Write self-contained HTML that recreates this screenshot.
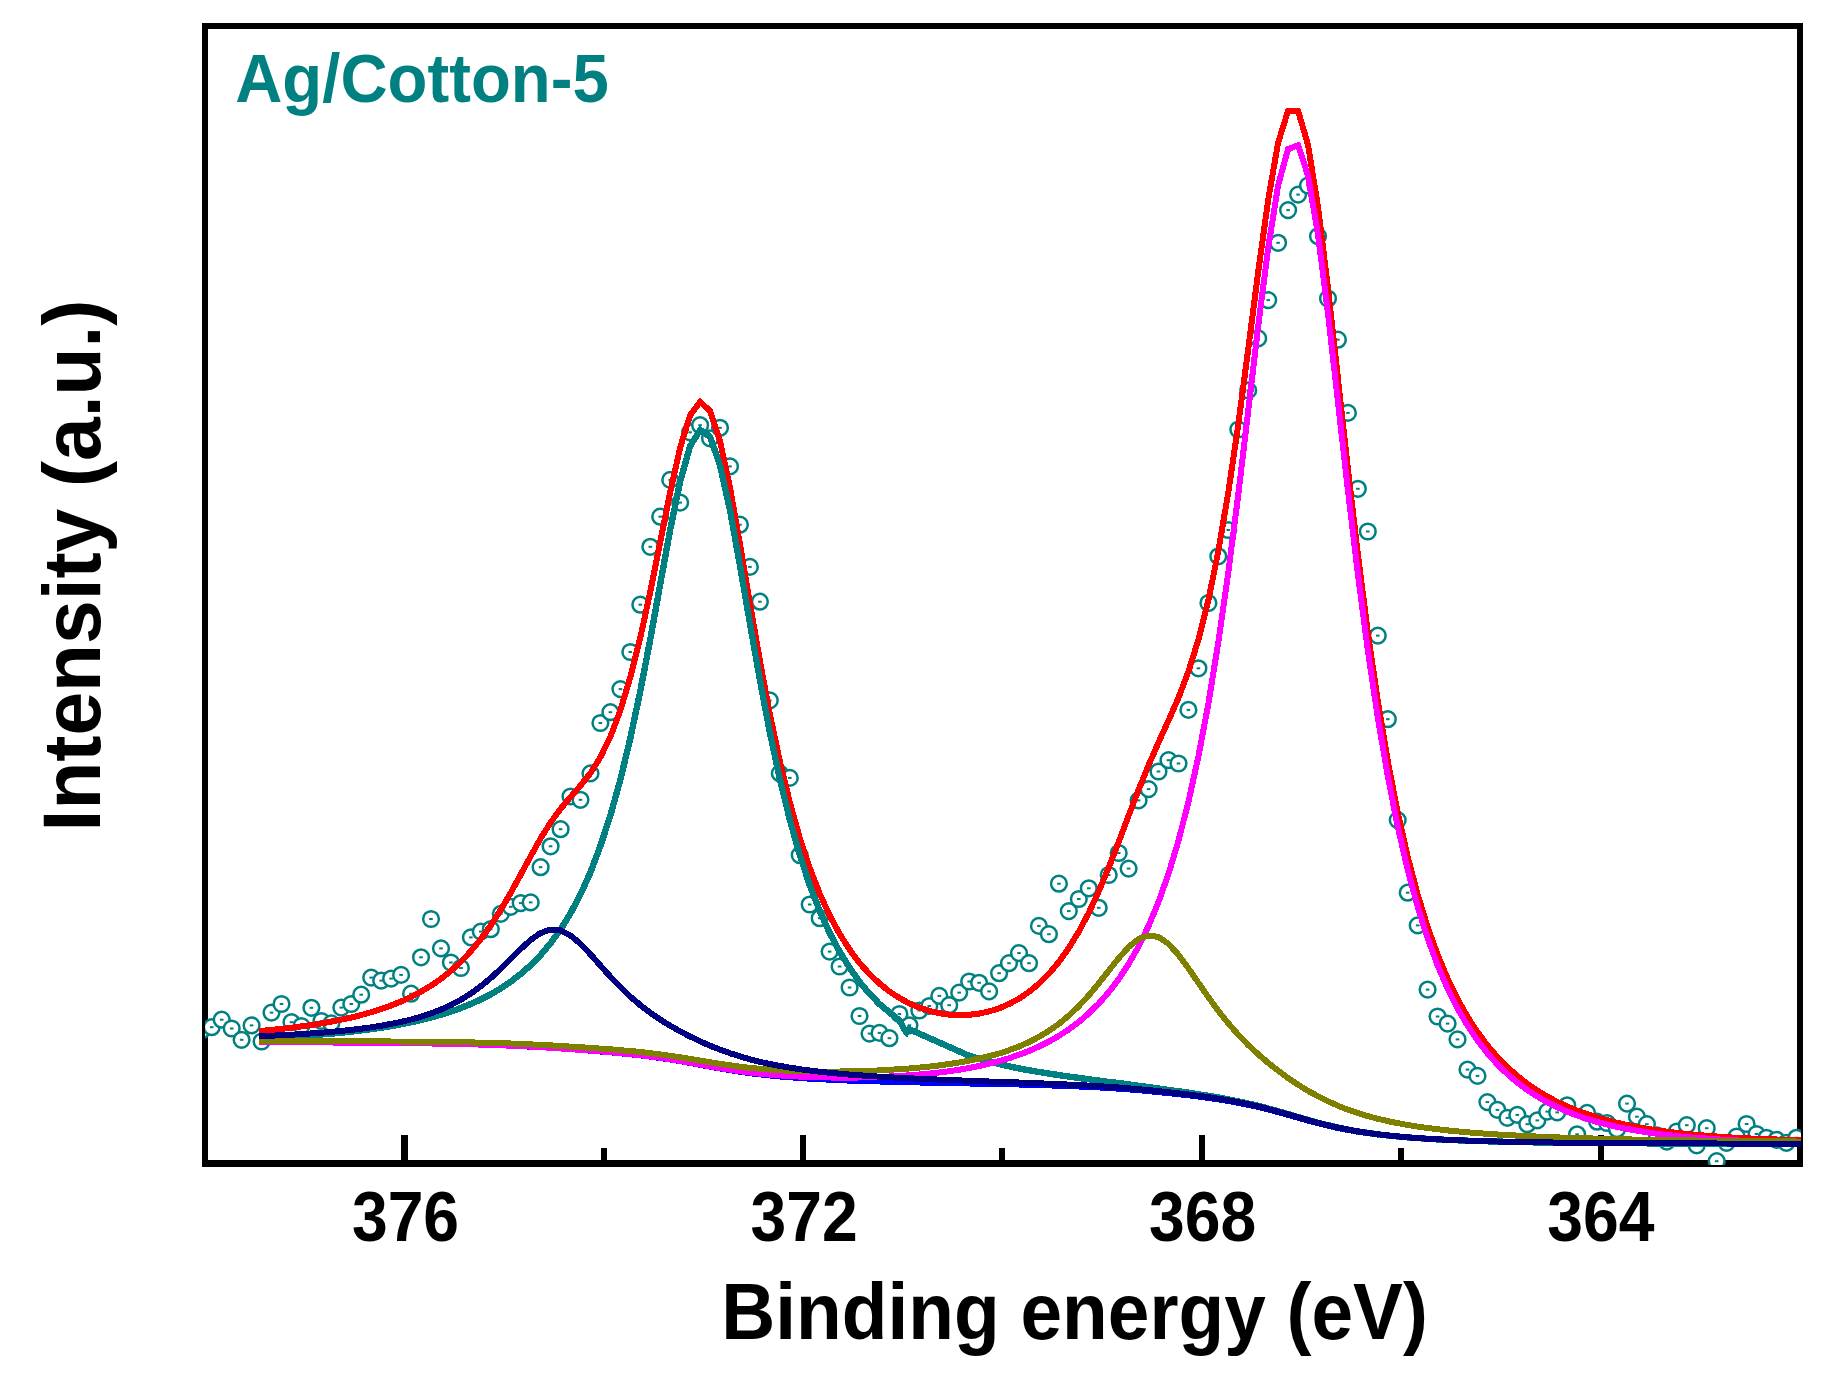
<!DOCTYPE html>
<html lang="en"><head><meta charset="utf-8"><title>Ag/Cotton-5 XPS Ag 3d</title>
<style>
html,body{margin:0;padding:0;background:#fff}
body{width:1828px;height:1393px;overflow:hidden}
svg{display:block}
text{font-family:"Liberation Sans",Arial,Helvetica,sans-serif;font-weight:bold}
.pt circle{fill:#fff;stroke:#008080;stroke-width:2.5}
.pt rect{fill:#008080}
.ln path{fill:none;stroke-linejoin:miter;stroke-miterlimit:6;stroke-linecap:square}
</style></head><body>
<svg width="1828" height="1393" viewBox="0 0 1828 1393">
<rect width="1828" height="1393" fill="#fff"/>

<g shape-rendering="crispEdges" fill="#000">
<rect x="202" y="23" width="6" height="1144"/>
<rect x="1797" y="23" width="6" height="1144"/>
<rect x="202" y="23" width="1601" height="6"/>
<rect x="202" y="1160" width="1601" height="7"/>
<rect x="401.3" y="1135.3" width="6.4" height="26"/>
<rect x="800.0" y="1135.3" width="6.4" height="26"/>
<rect x="1198.8" y="1135.3" width="6.4" height="26"/>
<rect x="1597.8" y="1135.3" width="6.4" height="26"/>
<rect x="600.8" y="1148" width="6.4" height="14"/>
<rect x="999.0" y="1148" width="6.4" height="14"/>
<rect x="1397.8" y="1148" width="6.4" height="14"/>
</g>
<defs><clipPath id="cp"><rect x="205" y="26" width="1596" height="1139"/></clipPath></defs>
<g clip-path="url(#cp)">
<g class="pt">
<circle cx="201.8" cy="1030.3" r="7.85"/>
<circle cx="211.7" cy="1027.2" r="7.85"/><rect x="209.9" y="1026.2" width="3.6" height="2"/>
<circle cx="221.7" cy="1019.7" r="7.85"/><rect x="219.9" y="1018.7" width="3.6" height="2"/>
<circle cx="231.7" cy="1028.5" r="7.85"/><rect x="229.9" y="1027.5" width="3.6" height="2"/>
<circle cx="241.6" cy="1039.8" r="7.85"/><rect x="239.8" y="1038.8" width="3.6" height="2"/>
<circle cx="251.6" cy="1025.4" r="7.85"/><rect x="249.8" y="1024.4" width="3.6" height="2"/>
<circle cx="261.6" cy="1041.5" r="7.85"/><rect x="259.8" y="1040.5" width="3.6" height="2"/>
<circle cx="271.5" cy="1012.6" r="7.85"/><rect x="269.7" y="1011.6" width="3.6" height="2"/>
<circle cx="281.5" cy="1004.0" r="7.85"/><rect x="279.7" y="1003.0" width="3.6" height="2"/>
<circle cx="291.5" cy="1022.2" r="7.85"/><rect x="289.7" y="1021.2" width="3.6" height="2"/>
<circle cx="301.4" cy="1026.0" r="7.85"/><rect x="299.6" y="1025.0" width="3.6" height="2"/>
<circle cx="311.4" cy="1007.8" r="7.85"/><rect x="309.6" y="1006.8" width="3.6" height="2"/>
<circle cx="321.4" cy="1021.0" r="7.85"/><rect x="319.6" y="1020.0" width="3.6" height="2"/>
<circle cx="331.3" cy="1023.4" r="7.85"/><rect x="329.5" y="1022.4" width="3.6" height="2"/>
<circle cx="341.3" cy="1007.6" r="7.85"/><rect x="339.5" y="1006.6" width="3.6" height="2"/>
<circle cx="351.3" cy="1004.0" r="7.85"/><rect x="349.5" y="1003.0" width="3.6" height="2"/>
<circle cx="361.2" cy="994.7" r="7.85"/><rect x="359.4" y="993.7" width="3.6" height="2"/>
<circle cx="371.2" cy="977.6" r="7.85"/><rect x="369.4" y="976.6" width="3.6" height="2"/>
<circle cx="381.2" cy="980.6" r="7.85"/><rect x="379.4" y="979.6" width="3.6" height="2"/>
<circle cx="391.1" cy="978.6" r="7.85"/><rect x="389.3" y="977.6" width="3.6" height="2"/>
<circle cx="401.1" cy="974.9" r="7.85"/><rect x="399.3" y="973.9" width="3.6" height="2"/>
<circle cx="411.1" cy="993.7" r="7.85"/><rect x="409.3" y="992.7" width="3.6" height="2"/>
<circle cx="421.0" cy="957.3" r="7.85"/><rect x="419.2" y="956.3" width="3.6" height="2"/>
<circle cx="431.0" cy="919.0" r="7.85"/><rect x="429.2" y="918.0" width="3.6" height="2"/>
<circle cx="441.0" cy="948.4" r="7.85"/><rect x="439.2" y="947.4" width="3.6" height="2"/>
<circle cx="450.9" cy="962.5" r="7.85"/><rect x="449.1" y="961.5" width="3.6" height="2"/>
<circle cx="460.9" cy="968.0" r="7.85"/><rect x="459.1" y="967.0" width="3.6" height="2"/>
<circle cx="470.9" cy="937.4" r="7.85"/><rect x="469.1" y="936.4" width="3.6" height="2"/>
<circle cx="480.8" cy="931.6" r="7.85"/><rect x="479.0" y="930.6" width="3.6" height="2"/>
<circle cx="490.8" cy="929.2" r="7.85"/><rect x="489.0" y="928.2" width="3.6" height="2"/>
<circle cx="500.8" cy="913.9" r="7.85"/><rect x="499.0" y="912.9" width="3.6" height="2"/>
<circle cx="510.7" cy="906.8" r="7.85"/><rect x="508.9" y="905.8" width="3.6" height="2"/>
<circle cx="520.7" cy="903.1" r="7.85"/><rect x="518.9" y="902.1" width="3.6" height="2"/>
<circle cx="530.7" cy="902.4" r="7.85"/><rect x="528.9" y="901.4" width="3.6" height="2"/>
<circle cx="540.6" cy="867.2" r="7.85"/><rect x="538.8" y="866.2" width="3.6" height="2"/>
<circle cx="550.6" cy="846.3" r="7.85"/><rect x="548.8" y="845.3" width="3.6" height="2"/>
<circle cx="560.6" cy="829.2" r="7.85"/><rect x="558.8" y="828.2" width="3.6" height="2"/>
<circle cx="570.5" cy="796.5" r="7.85"/><rect x="568.7" y="795.5" width="3.6" height="2"/>
<circle cx="580.5" cy="799.8" r="7.85"/><rect x="578.7" y="798.8" width="3.6" height="2"/>
<circle cx="590.5" cy="773.4" r="7.85"/><rect x="588.7" y="772.4" width="3.6" height="2"/>
<circle cx="600.4" cy="723.0" r="7.85"/><rect x="598.6" y="722.0" width="3.6" height="2"/>
<circle cx="610.4" cy="712.2" r="7.85"/><rect x="608.6" y="711.2" width="3.6" height="2"/>
<circle cx="620.4" cy="689.1" r="7.85"/><rect x="618.6" y="688.1" width="3.6" height="2"/>
<circle cx="630.3" cy="652.0" r="7.85"/><rect x="628.5" y="651.0" width="3.6" height="2"/>
<circle cx="640.3" cy="604.7" r="7.85"/><rect x="638.5" y="603.7" width="3.6" height="2"/>
<circle cx="650.3" cy="546.8" r="7.85"/><rect x="648.5" y="545.8" width="3.6" height="2"/>
<circle cx="660.2" cy="516.7" r="7.85"/><rect x="658.4" y="515.7" width="3.6" height="2"/>
<circle cx="670.2" cy="479.9" r="7.85"/><rect x="668.4" y="478.9" width="3.6" height="2"/>
<circle cx="680.2" cy="502.6" r="7.85"/><rect x="678.4" y="501.6" width="3.6" height="2"/>
<circle cx="690.1" cy="432.3" r="7.85"/><rect x="688.3" y="431.3" width="3.6" height="2"/>
<circle cx="700.1" cy="425.2" r="7.85"/><rect x="698.3" y="424.2" width="3.6" height="2"/>
<circle cx="710.0" cy="438.3" r="7.85"/><rect x="708.2" y="437.3" width="3.6" height="2"/>
<circle cx="720.0" cy="427.8" r="7.85"/><rect x="718.2" y="426.8" width="3.6" height="2"/>
<circle cx="730.0" cy="466.4" r="7.85"/><rect x="728.2" y="465.4" width="3.6" height="2"/>
<circle cx="739.9" cy="524.7" r="7.85"/><rect x="738.1" y="523.7" width="3.6" height="2"/>
<circle cx="749.9" cy="566.9" r="7.85"/><rect x="748.1" y="565.9" width="3.6" height="2"/>
<circle cx="759.9" cy="601.7" r="7.85"/><rect x="758.1" y="600.7" width="3.6" height="2"/>
<circle cx="769.8" cy="700.4" r="7.85"/><rect x="768.0" y="699.4" width="3.6" height="2"/>
<circle cx="779.8" cy="773.4" r="7.85"/><rect x="778.0" y="772.4" width="3.6" height="2"/>
<circle cx="789.8" cy="777.9" r="7.85"/><rect x="788.0" y="776.9" width="3.6" height="2"/>
<circle cx="799.7" cy="855.1" r="7.85"/><rect x="797.9" y="854.1" width="3.6" height="2"/>
<circle cx="809.7" cy="904.5" r="7.85"/><rect x="807.9" y="903.5" width="3.6" height="2"/>
<circle cx="819.7" cy="918.2" r="7.85"/><rect x="817.9" y="917.2" width="3.6" height="2"/>
<circle cx="829.6" cy="951.6" r="7.85"/><rect x="827.8" y="950.6" width="3.6" height="2"/>
<circle cx="839.6" cy="966.5" r="7.85"/><rect x="837.8" y="965.5" width="3.6" height="2"/>
<circle cx="849.6" cy="987.5" r="7.85"/><rect x="847.8" y="986.5" width="3.6" height="2"/>
<circle cx="859.5" cy="1016.0" r="7.85"/><rect x="857.7" y="1015.0" width="3.6" height="2"/>
<circle cx="869.5" cy="1033.6" r="7.85"/><rect x="867.7" y="1032.6" width="3.6" height="2"/>
<circle cx="879.5" cy="1032.9" r="7.85"/><rect x="877.7" y="1031.9" width="3.6" height="2"/>
<circle cx="889.4" cy="1038.2" r="7.85"/><rect x="887.6" y="1037.2" width="3.6" height="2"/>
<circle cx="899.4" cy="1014.0" r="7.85"/><rect x="897.6" y="1013.0" width="3.6" height="2"/>
<circle cx="909.4" cy="1025.3" r="7.85"/><rect x="907.6" y="1024.3" width="3.6" height="2"/>
<circle cx="919.3" cy="1010.5" r="7.85"/><rect x="917.5" y="1009.5" width="3.6" height="2"/>
<circle cx="929.3" cy="1006.0" r="7.85"/><rect x="927.5" y="1005.0" width="3.6" height="2"/>
<circle cx="939.3" cy="995.9" r="7.85"/><rect x="937.5" y="994.9" width="3.6" height="2"/>
<circle cx="949.2" cy="1005.2" r="7.85"/><rect x="947.4" y="1004.2" width="3.6" height="2"/>
<circle cx="959.2" cy="992.6" r="7.85"/><rect x="957.4" y="991.6" width="3.6" height="2"/>
<circle cx="969.2" cy="981.5" r="7.85"/><rect x="967.4" y="980.5" width="3.6" height="2"/>
<circle cx="979.1" cy="982.8" r="7.85"/><rect x="977.3" y="981.8" width="3.6" height="2"/>
<circle cx="989.1" cy="991.4" r="7.85"/><rect x="987.3" y="990.4" width="3.6" height="2"/>
<circle cx="999.1" cy="973.2" r="7.85"/><rect x="997.3" y="972.2" width="3.6" height="2"/>
<circle cx="1009.0" cy="963.2" r="7.85"/><rect x="1007.2" y="962.2" width="3.6" height="2"/>
<circle cx="1019.0" cy="953.1" r="7.85"/><rect x="1017.2" y="952.1" width="3.6" height="2"/>
<circle cx="1029.0" cy="963.2" r="7.85"/><rect x="1027.2" y="962.2" width="3.6" height="2"/>
<circle cx="1038.9" cy="925.9" r="7.85"/><rect x="1037.1" y="924.9" width="3.6" height="2"/>
<circle cx="1048.9" cy="934.2" r="7.85"/><rect x="1047.1" y="933.2" width="3.6" height="2"/>
<circle cx="1058.9" cy="883.7" r="7.85"/><rect x="1057.1" y="882.7" width="3.6" height="2"/>
<circle cx="1068.8" cy="911.1" r="7.85"/><rect x="1067.0" y="910.1" width="3.6" height="2"/>
<circle cx="1078.8" cy="899.0" r="7.85"/><rect x="1077.0" y="898.0" width="3.6" height="2"/>
<circle cx="1088.8" cy="888.3" r="7.85"/><rect x="1087.0" y="887.3" width="3.6" height="2"/>
<circle cx="1098.7" cy="907.8" r="7.85"/><rect x="1096.9" y="906.8" width="3.6" height="2"/>
<circle cx="1108.7" cy="875.0" r="7.85"/><rect x="1106.9" y="874.0" width="3.6" height="2"/>
<circle cx="1118.7" cy="853.0" r="7.85"/><rect x="1116.9" y="852.0" width="3.6" height="2"/>
<circle cx="1128.6" cy="868.6" r="7.85"/><rect x="1126.8" y="867.6" width="3.6" height="2"/>
<circle cx="1138.6" cy="800.4" r="7.85"/><rect x="1136.8" y="799.4" width="3.6" height="2"/>
<circle cx="1148.6" cy="789.1" r="7.85"/><rect x="1146.8" y="788.1" width="3.6" height="2"/>
<circle cx="1158.5" cy="771.5" r="7.85"/><rect x="1156.7" y="770.5" width="3.6" height="2"/>
<circle cx="1168.5" cy="760.2" r="7.85"/><rect x="1166.7" y="759.2" width="3.6" height="2"/>
<circle cx="1178.5" cy="763.5" r="7.85"/><rect x="1176.7" y="762.5" width="3.6" height="2"/>
<circle cx="1188.4" cy="709.9" r="7.85"/><rect x="1186.6" y="708.9" width="3.6" height="2"/>
<circle cx="1198.4" cy="668.3" r="7.85"/><rect x="1196.6" y="667.3" width="3.6" height="2"/>
<circle cx="1208.4" cy="603.0" r="7.85"/><rect x="1206.6" y="602.0" width="3.6" height="2"/>
<circle cx="1218.3" cy="556.3" r="7.85"/><rect x="1216.5" y="555.3" width="3.6" height="2"/>
<circle cx="1228.3" cy="530.0" r="7.85"/><rect x="1226.5" y="529.0" width="3.6" height="2"/>
<circle cx="1238.3" cy="429.5" r="7.85"/><rect x="1236.5" y="428.5" width="3.6" height="2"/>
<circle cx="1248.2" cy="390.4" r="7.85"/><rect x="1246.4" y="389.4" width="3.6" height="2"/>
<circle cx="1258.2" cy="338.4" r="7.85"/><rect x="1256.4" y="337.4" width="3.6" height="2"/>
<circle cx="1268.2" cy="300.1" r="7.85"/><rect x="1266.4" y="299.1" width="3.6" height="2"/>
<circle cx="1278.1" cy="242.8" r="7.85"/><rect x="1276.3" y="241.8" width="3.6" height="2"/>
<circle cx="1288.1" cy="210.1" r="7.85"/><rect x="1286.3" y="209.1" width="3.6" height="2"/>
<circle cx="1298.1" cy="194.6" r="7.85"/><rect x="1296.3" y="193.6" width="3.6" height="2"/>
<circle cx="1308.0" cy="185.5" r="7.85"/><rect x="1306.2" y="184.5" width="3.6" height="2"/>
<circle cx="1318.0" cy="236.2" r="7.85"/><rect x="1316.2" y="235.2" width="3.6" height="2"/>
<circle cx="1328.0" cy="298.5" r="7.85"/><rect x="1326.2" y="297.5" width="3.6" height="2"/>
<circle cx="1337.9" cy="339.7" r="7.85"/><rect x="1336.1" y="338.7" width="3.6" height="2"/>
<circle cx="1347.9" cy="412.9" r="7.85"/><rect x="1346.1" y="411.9" width="3.6" height="2"/>
<circle cx="1357.9" cy="488.8" r="7.85"/><rect x="1356.1" y="487.8" width="3.6" height="2"/>
<circle cx="1367.8" cy="531.5" r="7.85"/><rect x="1366.0" y="530.5" width="3.6" height="2"/>
<circle cx="1377.8" cy="635.6" r="7.85"/><rect x="1376.0" y="634.6" width="3.6" height="2"/>
<circle cx="1387.8" cy="719.2" r="7.85"/><rect x="1386.0" y="718.2" width="3.6" height="2"/>
<circle cx="1397.7" cy="820.1" r="7.85"/><rect x="1395.9" y="819.1" width="3.6" height="2"/>
<circle cx="1407.7" cy="892.7" r="7.85"/><rect x="1405.9" y="891.7" width="3.6" height="2"/>
<circle cx="1417.7" cy="925.4" r="7.85"/><rect x="1415.9" y="924.4" width="3.6" height="2"/>
<circle cx="1427.6" cy="989.6" r="7.85"/><rect x="1425.8" y="988.6" width="3.6" height="2"/>
<circle cx="1437.6" cy="1016.5" r="7.85"/><rect x="1435.8" y="1015.5" width="3.6" height="2"/>
<circle cx="1447.6" cy="1023.6" r="7.85"/><rect x="1445.8" y="1022.6" width="3.6" height="2"/>
<circle cx="1457.5" cy="1039.4" r="7.85"/><rect x="1455.7" y="1038.4" width="3.6" height="2"/>
<circle cx="1467.5" cy="1069.6" r="7.85"/><rect x="1465.7" y="1068.6" width="3.6" height="2"/>
<circle cx="1477.5" cy="1075.9" r="7.85"/><rect x="1475.7" y="1074.9" width="3.6" height="2"/>
<circle cx="1487.4" cy="1102.1" r="7.85"/><rect x="1485.6" y="1101.1" width="3.6" height="2"/>
<circle cx="1497.4" cy="1109.9" r="7.85"/><rect x="1495.6" y="1108.9" width="3.6" height="2"/>
<circle cx="1507.4" cy="1117.9" r="7.85"/><rect x="1505.6" y="1116.9" width="3.6" height="2"/>
<circle cx="1517.3" cy="1114.9" r="7.85"/><rect x="1515.5" y="1113.9" width="3.6" height="2"/>
<circle cx="1527.3" cy="1124.2" r="7.85"/><rect x="1525.5" y="1123.2" width="3.6" height="2"/>
<circle cx="1537.3" cy="1120.4" r="7.85"/><rect x="1535.5" y="1119.4" width="3.6" height="2"/>
<circle cx="1547.2" cy="1111.6" r="7.85"/><rect x="1545.4" y="1110.6" width="3.6" height="2"/>
<circle cx="1557.2" cy="1112.4" r="7.85"/><rect x="1555.4" y="1111.4" width="3.6" height="2"/>
<circle cx="1567.2" cy="1105.3" r="7.85"/><rect x="1565.4" y="1104.3" width="3.6" height="2"/>
<circle cx="1577.1" cy="1134.3" r="7.85"/><rect x="1575.3" y="1133.3" width="3.6" height="2"/>
<circle cx="1587.1" cy="1112.9" r="7.85"/><rect x="1585.3" y="1111.9" width="3.6" height="2"/>
<circle cx="1597.1" cy="1121.7" r="7.85"/><rect x="1595.3" y="1120.7" width="3.6" height="2"/>
<circle cx="1607.0" cy="1123.0" r="7.85"/><rect x="1605.2" y="1122.0" width="3.6" height="2"/>
<circle cx="1617.0" cy="1129.2" r="7.85"/><rect x="1615.2" y="1128.2" width="3.6" height="2"/>
<circle cx="1627.0" cy="1103.6" r="7.85"/><rect x="1625.2" y="1102.6" width="3.6" height="2"/>
<circle cx="1636.9" cy="1116.7" r="7.85"/><rect x="1635.1" y="1115.7" width="3.6" height="2"/>
<circle cx="1646.9" cy="1124.2" r="7.85"/><rect x="1645.1" y="1123.2" width="3.6" height="2"/>
<circle cx="1656.9" cy="1135.3" r="7.85"/><rect x="1655.1" y="1134.3" width="3.6" height="2"/>
<circle cx="1666.8" cy="1141.6" r="7.85"/><rect x="1665.0" y="1140.6" width="3.6" height="2"/>
<circle cx="1676.8" cy="1131.5" r="7.85"/><rect x="1675.0" y="1130.5" width="3.6" height="2"/>
<circle cx="1686.8" cy="1125.2" r="7.85"/><rect x="1685.0" y="1124.2" width="3.6" height="2"/>
<circle cx="1696.7" cy="1145.3" r="7.85"/><rect x="1694.9" y="1144.3" width="3.6" height="2"/>
<circle cx="1706.7" cy="1128.2" r="7.85"/><rect x="1704.9" y="1127.2" width="3.6" height="2"/>
<circle cx="1716.7" cy="1161.2" r="7.85"/><rect x="1714.9" y="1160.2" width="3.6" height="2"/>
<circle cx="1726.6" cy="1142.8" r="7.85"/><rect x="1724.8" y="1141.8" width="3.6" height="2"/>
<circle cx="1736.6" cy="1136.5" r="7.85"/><rect x="1734.8" y="1135.5" width="3.6" height="2"/>
<circle cx="1746.6" cy="1124.0" r="7.85"/><rect x="1744.8" y="1123.0" width="3.6" height="2"/>
<circle cx="1756.5" cy="1134.0" r="7.85"/><rect x="1754.7" y="1133.0" width="3.6" height="2"/>
<circle cx="1766.5" cy="1137.8" r="7.85"/><rect x="1764.7" y="1136.8" width="3.6" height="2"/>
<circle cx="1776.5" cy="1139.8" r="7.85"/><rect x="1774.7" y="1138.8" width="3.6" height="2"/>
<circle cx="1786.4" cy="1142.8" r="7.85"/><rect x="1784.6" y="1141.8" width="3.6" height="2"/>
<circle cx="1796.4" cy="1137.8" r="7.85"/><rect x="1794.6" y="1136.8" width="3.6" height="2"/>
</g>
<g class="ln" shape-rendering="crispEdges">
<path d="M262.0 1030.8 L271.5 1029.9 L281.5 1028.9 L291.5 1027.7 L301.4 1026.4 L311.4 1025.0 L321.4 1023.4 L331.3 1021.6 L341.3 1019.7 L351.3 1017.5 L361.2 1015.0 L371.2 1012.2 L381.2 1009.1 L391.1 1005.5 L401.1 1001.5 L411.1 996.9 L421.0 991.7 L431.0 985.7 L441.0 978.8 L450.9 970.9 L460.9 961.8 L470.9 951.2 L480.8 939.1 L490.8 925.3 L500.8 909.8 L510.7 892.8 L520.7 874.6 L530.7 856.1 L540.6 838.4 L550.6 822.5 L560.6 808.8 L570.5 797.0 L580.5 785.6 L590.5 773.0 L600.4 757.2 L610.4 736.7 L620.4 710.3 L630.3 677.3 L640.3 637.6 L650.3 591.8 L660.2 542.0 L670.2 492.0 L680.2 447.4 L690.1 415.3 L700.1 401.9 L710.0 410.8 L720.0 441.1 L730.0 487.7 L739.9 543.9 L749.9 603.1 L759.9 660.7 L769.8 713.8 L779.8 761.0 L789.8 802.2 L799.7 837.6 L809.7 867.9 L819.7 893.6 L829.6 915.4 L839.6 933.9 L849.6 949.6 L859.5 962.9 L869.5 974.1 L879.5 983.5 L889.4 991.5 L899.4 998.0 L909.4 1003.4 L919.3 1007.6 L929.3 1010.9 L939.3 1013.2 L949.2 1014.6 L959.2 1015.2 L969.2 1014.8 L979.1 1013.6 L989.1 1011.4 L999.1 1008.3 L1009.0 1004.0 L1019.0 998.6 L1029.0 991.9 L1038.9 983.6 L1048.9 973.7 L1058.9 961.9 L1068.8 948.0 L1078.8 931.6 L1088.8 912.8 L1098.7 891.3 L1108.7 867.6 L1118.7 842.0 L1128.6 815.7 L1138.6 789.7 L1148.6 765.2 L1158.5 742.4 L1168.5 720.5 L1178.5 697.7 L1188.4 671.6 L1198.4 639.8 L1208.4 600.1 L1218.3 551.2 L1228.3 492.5 L1238.3 424.4 L1248.2 349.3 L1258.2 271.9 L1268.2 199.8 L1278.1 142.7 L1288.1 110.8 L1298.1 111.0 L1308.0 144.8 L1318.0 206.9 L1328.0 288.0 L1337.9 378.2 L1347.9 468.9 L1357.9 554.6 L1367.8 632.4 L1377.8 701.2 L1387.8 761.1 L1397.7 812.6 L1407.7 856.8 L1417.7 894.6 L1427.6 927.0 L1437.6 954.7 L1447.6 978.5 L1457.5 999.1 L1467.5 1016.8 L1477.5 1032.1 L1487.4 1045.4 L1497.4 1057.0 L1507.4 1067.1 L1517.3 1076.0 L1527.3 1083.7 L1537.3 1090.5 L1547.2 1096.5 L1557.2 1101.8 L1567.2 1106.5 L1577.1 1110.6 L1587.1 1114.2 L1597.1 1117.4 L1607.0 1120.2 L1617.0 1122.8 L1627.0 1125.0 L1636.9 1127.0 L1646.9 1128.7 L1656.9 1130.3 L1666.8 1131.6 L1676.8 1132.9 L1686.8 1133.9 L1696.7 1134.9 L1706.7 1135.7 L1716.7 1136.5 L1726.6 1137.2 L1736.6 1137.8 L1746.6 1138.3 L1756.5 1138.8 L1766.5 1139.2 L1776.5 1139.5 L1786.4 1139.9 L1796.4 1140.2 L1803 1140.2" stroke="#ff0000" stroke-width="6"/>
<path d="M262.0 1042.2 L271.5 1042.2 L281.5 1042.3 L291.5 1042.3 L301.4 1042.3 L311.4 1042.4 L321.4 1042.4 L331.3 1042.5 L341.3 1042.6 L351.3 1042.6 L361.2 1042.7 L371.2 1042.8 L381.2 1042.9 L391.1 1043.0 L401.1 1043.1 L411.1 1043.2 L421.0 1043.4 L431.0 1043.5 L441.0 1043.7 L450.9 1043.9 L460.9 1044.1 L470.9 1044.3 L480.8 1044.6 L490.8 1044.9 L500.8 1045.3 L510.7 1045.7 L520.7 1046.1 L530.7 1046.7 L540.6 1047.2 L550.6 1047.8 L560.6 1048.5 L570.5 1049.2 L580.5 1049.9 L590.5 1050.7 L600.4 1051.5 L610.4 1052.3 L620.4 1053.3 L630.3 1054.3 L640.3 1055.4 L650.3 1056.6 L660.2 1058.0 L670.2 1059.5 L680.2 1061.2 L690.1 1063.0 L700.1 1064.8 L710.0 1066.7 L720.0 1068.5 L730.0 1070.2 L739.9 1071.8 L749.9 1073.2 L759.9 1074.4 L769.8 1075.5 L779.8 1076.5 L789.8 1077.3 L799.7 1078.0 L809.7 1078.7 L819.7 1079.2 L829.6 1079.7 L839.6 1080.2 L849.6 1080.6 L859.5 1080.9 L869.5 1081.2 L879.5 1081.5 L889.4 1081.8 L899.4 1082.0 L909.4 1082.3 L919.3 1082.5 L929.3 1082.7 L939.3 1082.9 L949.2 1083.1 L959.2 1083.3 L969.2 1083.5 L979.1 1083.7 L989.1 1083.9 L999.1 1084.1 L1009.0 1084.3 L1019.0 1084.5 L1029.0 1084.8 L1038.9 1085.1 L1048.9 1085.4 L1058.9 1085.7 L1068.8 1086.1 L1078.8 1086.5 L1088.8 1086.9 L1098.7 1087.4 L1108.7 1088.0 L1118.7 1088.7 L1128.6 1089.4 L1138.6 1090.2 L1148.6 1091.1 L1158.5 1092.1 L1168.5 1093.1 L1178.5 1094.2 L1188.4 1095.3 L1198.4 1096.5 L1208.4 1097.9 L1218.3 1099.4 L1228.3 1101.0 L1238.3 1102.8 L1248.2 1104.8 L1258.2 1107.0 L1268.2 1109.5 L1278.1 1112.1 L1288.1 1114.9 L1298.1 1117.8 L1308.0 1120.6 L1318.0 1123.2 L1328.0 1125.7 L1337.9 1128.0 L1347.9 1130.0 L1357.9 1131.7 L1367.8 1133.2 L1377.8 1134.6 L1387.8 1135.7 L1397.7 1136.7 L1407.7 1137.5 L1417.7 1138.3 L1427.6 1138.9 L1437.6 1139.5 L1447.6 1140.0 L1457.5 1140.4 L1467.5 1140.8 L1477.5 1141.1 L1487.4 1141.4 L1497.4 1141.7 L1507.4 1141.9 L1517.3 1142.1 L1527.3 1142.3 L1537.3 1142.4 L1547.2 1142.5 L1557.2 1142.7 L1567.2 1142.8 L1577.1 1142.9 L1587.1 1143.0 L1597.1 1143.0 L1607.0 1143.1 L1617.0 1143.2 L1627.0 1143.2 L1636.9 1143.3 L1646.9 1143.3 L1656.9 1143.4 L1666.8 1143.4 L1676.8 1143.4 L1686.8 1143.4 L1696.7 1143.5 L1706.7 1143.5 L1716.7 1143.5 L1726.6 1143.5 L1736.6 1143.6 L1746.6 1143.6 L1756.5 1143.6 L1766.5 1143.6 L1776.5 1143.6 L1786.4 1143.6 L1796.4 1143.6 L1803 1143.6" stroke="#0000ff" stroke-width="6"/>
<path d="M262.0 1038.0 L271.5 1037.6 L281.5 1037.1 L291.5 1036.5 L301.4 1035.9 L311.4 1035.2 L321.4 1034.4 L331.3 1033.6 L341.3 1032.7 L351.3 1031.6 L361.2 1030.4 L371.2 1029.1 L381.2 1027.7 L391.1 1026.1 L401.1 1024.3 L411.1 1022.3 L421.0 1020.0 L431.0 1017.5 L441.0 1014.7 L450.9 1011.6 L460.9 1008.0 L470.9 1004.0 L480.8 999.4 L490.8 994.3 L500.8 988.4 L510.7 981.7 L520.7 974.0 L530.7 965.2 L540.6 955.0 L550.6 943.2 L560.6 929.4 L570.5 913.3 L580.5 894.4 L590.5 872.2 L600.4 846.0 L610.4 815.4 L620.4 779.6 L630.3 738.3 L640.3 691.2 L650.3 639.2 L660.2 584.2 L670.2 529.7 L680.2 481.4 L690.1 446.0 L700.1 430.0 L710.0 436.7 L720.0 465.0 L730.0 510.0 L739.9 564.9 L749.9 623.1 L759.9 679.8 L769.8 732.1 L779.8 778.8 L789.8 819.6 L799.7 854.8 L809.7 885.0 L819.7 910.8 L829.6 932.8 L839.6 951.6 L849.6 967.8 L859.5 981.7 L869.5 993.7 L879.5 1004.1 L889.4 1012.4 L899.4 1020.3 L904.3 1029.6 L906.8 1032.4 L909.2 1029.2 L969.2 1055.8 L979.1 1058.8 L989.1 1061.6 L999.1 1064.1 L1009.0 1066.3 L1019.0 1068.4 L1029.0 1070.3 L1038.9 1072.0 L1048.9 1073.6 L1058.9 1075.1 L1068.8 1076.6 L1078.8 1077.9 L1088.8 1079.3 L1098.7 1080.6 L1108.7 1081.9 L1118.7 1083.1 L1128.6 1084.4 L1138.6 1085.8 L1148.6 1087.1 L1158.5 1088.5 L1168.5 1089.9 L1178.5 1091.3 L1188.4 1092.7 L1198.4 1094.3 L1208.4 1095.8 L1218.3 1097.5 L1228.3 1099.4 L1238.3 1101.3 L1248.2 1103.5 L1258.2 1105.9 L1268.2 1108.5 L1278.1 1111.2 L1288.1 1114.1 L1298.1 1117.1 L1308.0 1119.9 L1318.0 1122.7 L1328.0 1125.2 L1337.9 1127.5 L1347.9 1129.6 L1357.9 1131.4 L1367.8 1132.9 L1377.8 1134.3 L1387.8 1135.5 L1397.7 1136.5 L1407.7 1137.4 L1417.7 1138.1 L1427.6 1138.8 L1437.6 1139.4 L1447.6 1139.9 L1457.5 1140.3 L1467.5 1140.7 L1477.5 1141.0 L1487.4 1141.3 L1497.4 1141.6 L1507.4 1141.8 L1517.3 1142.0 L1527.3 1142.2 L1537.3 1142.4 L1547.2 1142.5 L1557.2 1142.6 L1567.2 1142.8 L1577.1 1142.9 L1587.1 1142.9 L1597.1 1143.0 L1607.0 1143.1 L1617.0 1143.2 L1627.0 1143.2 L1636.9 1143.3 L1646.9 1143.3 L1656.9 1143.3 L1666.8 1143.4 L1676.8 1143.4 L1686.8 1143.4 L1696.7 1143.5 L1706.7 1143.5 L1716.7 1143.5 L1726.6 1143.5 L1736.6 1143.6 L1746.6 1143.6 L1756.5 1143.6 L1766.5 1143.6 L1776.5 1143.6 L1786.4 1143.6 L1796.4 1143.6 L1803 1143.6" stroke="#008080" stroke-width="6.4" stroke-linejoin="round"/>
<path d="M262.0 1042.2 L271.5 1042.2 L281.5 1042.3 L291.5 1042.3 L301.4 1042.3 L311.4 1042.4 L321.4 1042.4 L331.3 1042.5 L341.3 1042.6 L351.3 1042.6 L361.2 1042.7 L371.2 1042.8 L381.2 1042.9 L391.1 1043.0 L401.1 1043.1 L411.1 1043.2 L421.0 1043.3 L431.0 1043.5 L441.0 1043.7 L450.9 1043.9 L460.9 1044.1 L470.9 1044.3 L480.8 1044.6 L490.8 1044.9 L500.8 1045.3 L510.7 1045.7 L520.7 1046.1 L530.7 1046.6 L540.6 1047.2 L550.6 1047.8 L560.6 1048.5 L570.5 1049.1 L580.5 1049.9 L590.5 1050.6 L600.4 1051.4 L610.4 1052.3 L620.4 1053.2 L630.3 1054.2 L640.3 1055.3 L650.3 1056.5 L660.2 1057.8 L670.2 1059.3 L680.2 1061.0 L690.1 1062.7 L700.1 1064.5 L710.0 1066.3 L720.0 1068.1 L730.0 1069.7 L739.9 1071.2 L749.9 1072.5 L759.9 1073.7 L769.8 1074.6 L779.8 1075.4 L789.8 1076.1 L799.7 1076.6 L809.7 1077.0 L819.7 1077.3 L829.6 1077.5 L839.6 1077.6 L849.6 1077.6 L859.5 1077.5 L869.5 1077.2 L879.5 1076.9 L889.4 1076.5 L899.4 1076.0 L909.4 1075.3 L919.3 1074.5 L929.3 1073.6 L939.3 1072.5 L949.2 1071.2 L959.2 1069.7 L969.2 1068.0 L979.1 1066.0 L989.1 1063.7 L999.1 1061.2 L1009.0 1058.2 L1019.0 1054.8 L1029.0 1051.0 L1038.9 1046.6 L1048.9 1041.6 L1058.9 1035.9 L1068.8 1029.4 L1078.8 1021.9 L1088.8 1013.4 L1098.7 1003.6 L1108.7 992.2 L1118.7 979.2 L1128.6 964.0 L1138.6 946.4 L1148.6 925.9 L1158.5 901.9 L1168.5 873.8 L1178.5 840.8 L1188.4 802.0 L1198.4 756.6 L1208.4 703.6 L1218.3 642.3 L1228.3 572.4 L1238.3 494.5 L1248.2 411.0 L1258.2 326.3 L1268.2 248.0 L1278.1 185.5 L1288.1 149.0 L1298.1 145.3 L1308.0 175.6 L1318.0 234.7 L1328.0 313.3 L1337.9 401.2 L1347.9 489.9 L1357.9 573.9 L1367.8 650.2 L1377.8 717.6 L1387.8 776.2 L1397.7 826.6 L1407.7 869.8 L1417.7 906.7 L1427.6 938.3 L1437.6 965.3 L1447.6 988.5 L1457.5 1008.4 L1467.5 1025.5 L1477.5 1040.4 L1487.4 1053.2 L1497.4 1064.4 L1507.4 1074.1 L1517.3 1082.6 L1527.3 1090.0 L1537.3 1096.5 L1547.2 1102.2 L1557.2 1107.2 L1567.2 1111.6 L1577.1 1115.5 L1587.1 1118.9 L1597.1 1121.9 L1607.0 1124.5 L1617.0 1126.9 L1627.0 1128.9 L1636.9 1130.7 L1646.9 1132.3 L1656.9 1133.8 L1666.8 1135.0 L1676.8 1136.1 L1686.8 1137.1 L1696.7 1137.9 L1706.7 1138.6 L1716.7 1139.3 L1726.6 1139.9 L1736.6 1140.4 L1746.6 1140.8 L1756.5 1141.2 L1766.5 1141.5 L1776.5 1141.8 L1786.4 1142.1 L1796.4 1142.3 L1803 1142.3" stroke="#ff00ff" stroke-width="6"/>
<path d="M262.0 1041.1 L271.5 1041.1 L281.5 1041.1 L291.5 1041.1 L301.4 1041.1 L311.4 1041.1 L321.4 1041.2 L331.3 1041.2 L341.3 1041.2 L351.3 1041.3 L361.2 1041.3 L371.2 1041.3 L381.2 1041.4 L391.1 1041.5 L401.1 1041.5 L411.1 1041.6 L421.0 1041.7 L431.0 1041.8 L441.0 1041.9 L450.9 1042.1 L460.9 1042.2 L470.9 1042.4 L480.8 1042.7 L490.8 1042.9 L500.8 1043.2 L510.7 1043.5 L520.7 1043.9 L530.7 1044.4 L540.6 1044.9 L550.6 1045.4 L560.6 1046.0 L570.5 1046.6 L580.5 1047.2 L590.5 1047.9 L600.4 1048.6 L610.4 1049.3 L620.4 1050.2 L630.3 1051.0 L640.3 1052.0 L650.3 1053.2 L660.2 1054.4 L670.2 1055.8 L680.2 1057.3 L690.1 1058.9 L700.1 1060.6 L710.0 1062.2 L720.0 1063.9 L730.0 1065.3 L739.9 1066.7 L749.9 1067.9 L759.9 1068.8 L769.8 1069.6 L779.8 1070.3 L789.8 1070.8 L799.7 1071.2 L809.7 1071.4 L819.7 1071.6 L829.6 1071.6 L839.6 1071.5 L849.6 1071.4 L859.5 1071.1 L869.5 1070.8 L879.5 1070.4 L889.4 1069.8 L899.4 1069.2 L909.4 1068.5 L919.3 1067.6 L929.3 1066.6 L939.3 1065.4 L949.2 1064.0 L959.2 1062.5 L969.2 1060.7 L979.1 1058.6 L989.1 1056.2 L999.1 1053.5 L1009.0 1050.2 L1019.0 1046.5 L1029.0 1042.1 L1038.9 1036.9 L1048.9 1030.9 L1058.9 1023.8 L1068.8 1015.6 L1078.8 1006.1 L1088.8 995.3 L1098.7 983.4 L1108.7 970.7 L1118.7 958.2 L1128.6 947.1 L1138.6 939.0 L1148.6 935.4 L1158.5 937.0 L1168.5 943.9 L1178.5 954.8 L1188.4 968.3 L1198.4 982.8 L1208.4 997.2 L1218.3 1010.8 L1228.3 1023.3 L1238.3 1034.7 L1248.2 1045.0 L1258.2 1054.3 L1268.2 1062.9 L1278.1 1070.7 L1288.1 1078.0 L1298.1 1084.7 L1308.0 1090.8 L1318.0 1096.3 L1328.0 1101.3 L1337.9 1105.7 L1347.9 1109.7 L1357.9 1113.1 L1367.8 1116.1 L1377.8 1118.8 L1387.8 1121.1 L1397.7 1123.1 L1407.7 1125.0 L1417.7 1126.6 L1427.6 1128.0 L1437.6 1129.2 L1447.6 1130.4 L1457.5 1131.4 L1467.5 1132.3 L1477.5 1133.1 L1487.4 1133.8 L1497.4 1134.5 L1507.4 1135.1 L1517.3 1135.6 L1527.3 1136.1 L1537.3 1136.6 L1547.2 1137.0 L1557.2 1137.4 L1567.2 1137.8 L1577.1 1138.1 L1587.1 1138.4 L1597.1 1138.6 L1607.0 1138.9 L1617.0 1139.1 L1627.0 1139.4 L1636.9 1139.6 L1646.9 1139.7 L1656.9 1139.9 L1666.8 1140.1 L1676.8 1140.2 L1686.8 1140.4 L1696.7 1140.5 L1706.7 1140.6 L1716.7 1140.8 L1726.6 1140.9 L1736.6 1141.0 L1746.6 1141.1 L1756.5 1141.2 L1766.5 1141.3 L1776.5 1141.3 L1786.4 1141.4 L1796.4 1141.5 L1803 1141.5" stroke="#808000" stroke-width="6"/>
<path d="M262.0 1036.1 L271.5 1035.7 L281.5 1035.2 L291.5 1034.7 L301.4 1034.1 L311.4 1033.4 L321.4 1032.7 L331.3 1031.9 L341.3 1030.9 L351.3 1029.9 L361.2 1028.7 L371.2 1027.3 L381.2 1025.7 L391.1 1023.9 L401.1 1021.9 L411.1 1019.5 L421.0 1016.7 L431.0 1013.4 L441.0 1009.5 L450.9 1005.0 L460.9 999.7 L470.9 993.5 L480.8 986.3 L490.8 978.0 L500.8 968.8 L510.7 958.9 L520.7 948.9 L530.7 939.9 L540.6 933.0 L550.6 929.6 L560.6 930.4 L570.5 935.5 L580.5 943.9 L590.5 954.3 L600.4 965.6 L610.4 976.7 L620.4 987.1 L630.3 996.6 L640.3 1005.1 L650.3 1012.7 L660.2 1019.6 L670.2 1025.7 L680.2 1031.4 L690.1 1036.5 L700.1 1041.3 L710.0 1045.7 L720.0 1049.6 L730.0 1053.2 L739.9 1056.4 L749.9 1059.3 L759.9 1061.8 L769.8 1064.0 L779.8 1065.9 L789.8 1067.6 L799.7 1069.2 L809.7 1070.5 L819.7 1071.7 L829.6 1072.8 L839.6 1073.7 L849.6 1074.6 L859.5 1075.3 L869.5 1076.0 L879.5 1076.7 L889.4 1077.3 L899.4 1077.8 L909.4 1078.3 L919.3 1078.8 L929.3 1079.2 L939.3 1079.6 L949.2 1080.0 L959.2 1080.4 L969.2 1080.8 L979.1 1081.1 L989.1 1081.5 L999.1 1081.8 L1009.0 1082.2 L1019.0 1082.5 L1029.0 1082.9 L1038.9 1083.3 L1048.9 1083.7 L1058.9 1084.1 L1068.8 1084.6 L1078.8 1085.0 L1088.8 1085.6 L1098.7 1086.2 L1108.7 1086.8 L1118.7 1087.5 L1128.6 1088.3 L1138.6 1089.2 L1148.6 1090.1 L1158.5 1091.1 L1168.5 1092.2 L1178.5 1093.3 L1188.4 1094.5 L1198.4 1095.8 L1208.4 1097.2 L1218.3 1098.7 L1228.3 1100.3 L1238.3 1102.2 L1248.2 1104.2 L1258.2 1106.5 L1268.2 1109.0 L1278.1 1111.7 L1288.1 1114.5 L1298.1 1117.3 L1308.0 1120.2 L1318.0 1122.9 L1328.0 1125.4 L1337.9 1127.6 L1347.9 1129.6 L1357.9 1131.4 L1367.8 1132.9 L1377.8 1134.3 L1387.8 1135.4 L1397.7 1136.4 L1407.7 1137.3 L1417.7 1138.1 L1427.6 1138.7 L1437.6 1139.3 L1447.6 1139.8 L1457.5 1140.2 L1467.5 1140.6 L1477.5 1140.9 L1487.4 1141.2 L1497.4 1141.5 L1507.4 1141.7 L1517.3 1141.9 L1527.3 1142.1 L1537.3 1142.3 L1547.2 1142.4 L1557.2 1142.6 L1567.2 1142.7 L1577.1 1142.8 L1587.1 1142.9 L1597.1 1143.0 L1607.0 1143.0 L1617.0 1143.1 L1627.0 1143.1 L1636.9 1143.2 L1646.9 1143.2 L1656.9 1143.3 L1666.8 1143.3 L1676.8 1143.4 L1686.8 1143.4 L1696.7 1143.4 L1706.7 1143.4 L1716.7 1143.5 L1726.6 1143.5 L1736.6 1143.5 L1746.6 1143.5 L1756.5 1143.5 L1766.5 1143.6 L1776.5 1143.6 L1786.4 1143.6 L1796.4 1143.6 L1803 1143.6" stroke="#000080" stroke-width="6"/>
<path d="M1450.0 1136.9 L1456.0 1137.2 L1462.0 1137.4 L1468.0 1137.6 L1474.0 1137.8 L1480.0 1138.0 L1486.0 1138.2 L1492.0 1138.4 L1498.0 1138.5 L1504.0 1138.6 L1510.0 1138.8 L1516.0 1138.9 L1522.0 1138.9 L1528.0 1139.0 L1534.0 1139.1 L1540.0 1139.2 L1546.0 1139.2 L1552.0 1139.3 L1558.0 1139.3 L1564.0 1139.4 L1570.0 1139.4 L1576.0 1139.5 L1582.0 1139.5 L1588.0 1139.5 L1594.0 1139.6 L1600.0 1139.6 L1606.0 1139.6 L1612.0 1139.6 L1618.0 1139.6 L1624.0 1139.7 L1630.0 1139.7 L1636.0 1139.7 L1642.0 1139.7 L1648.0 1139.7 L1654.0 1139.7 L1660.0 1139.7 L1666.0 1139.7 L1672.0 1139.7 L1678.0 1139.7 L1684.0 1139.7 L1690.0 1139.7 L1696.0 1139.7 L1702.0 1139.7 L1708.0 1139.7 L1714.0 1139.7 L1720.0 1139.6 L1726.0 1139.6 L1732.0 1139.6 L1738.0 1139.6 L1744.0 1139.6 L1750.0 1139.6 L1756.0 1139.6 L1762.0 1139.6 L1768.0 1139.6 L1774.0 1139.6 L1780.0 1139.6 L1786.0 1139.6 L1792.0 1139.6 L1798.0 1139.7 L1798.0 1147.7 L1792.0 1147.7 L1786.0 1147.7 L1780.0 1147.7 L1774.0 1147.7 L1768.0 1147.7 L1762.0 1147.7 L1756.0 1147.6 L1750.0 1147.6 L1744.0 1147.6 L1738.0 1147.6 L1732.0 1147.5 L1726.0 1147.5 L1720.0 1147.5 L1714.0 1147.4 L1708.0 1147.4 L1702.0 1147.4 L1696.0 1147.3 L1690.0 1147.3 L1684.0 1147.2 L1678.0 1147.2 L1672.0 1147.2 L1666.0 1147.1 L1660.0 1147.1 L1654.0 1147.0 L1648.0 1147.0 L1642.0 1146.9 L1636.0 1146.9 L1630.0 1146.8 L1624.0 1146.8 L1618.0 1146.7 L1612.0 1146.6 L1606.0 1146.6 L1600.0 1146.5 L1594.0 1146.4 L1588.0 1146.4 L1582.0 1146.3 L1576.0 1146.2 L1570.0 1146.1 L1564.0 1146.0 L1558.0 1145.9 L1552.0 1145.8 L1546.0 1145.7 L1540.0 1145.6 L1534.0 1145.5 L1528.0 1145.4 L1522.0 1145.3 L1516.0 1145.1 L1510.0 1145.0 L1504.0 1144.8 L1498.0 1144.7 L1492.0 1144.5 L1486.0 1144.3 L1480.0 1144.2 L1474.0 1144.0 L1468.0 1143.8 L1462.0 1143.5 L1456.0 1143.3 L1450.0 1143.0Z" fill="#000080" stroke="none"/>
</g>
</g>
<text transform="translate(235.2 101.7) scale(0.941 1)" font-size="69.4" fill="#008080" id="ttl">Ag/Cotton-5</text>
<text transform="translate(405.5 1241.4) scale(0.918 1)" font-size="70" text-anchor="middle" class="tk">376</text>
<text transform="translate(804.2 1241.4) scale(0.918 1)" font-size="70" text-anchor="middle" class="tk">372</text>
<text transform="translate(1202.6 1241.4) scale(0.918 1)" font-size="70" text-anchor="middle" class="tk">368</text>
<text transform="translate(1600.8 1241.4) scale(0.918 1)" font-size="70" text-anchor="middle" class="tk">364</text>
<text transform="translate(1074.6 1339.1) scale(0.934 1)" font-size="80.1" text-anchor="middle" id="xl">Binding energy (eV)</text>
<text transform="translate(100.1 565.5) rotate(-90) scale(0.964 1)" font-size="81.4" text-anchor="middle" id="yl">Intensity (a.u.)</text>
</svg></body></html>
